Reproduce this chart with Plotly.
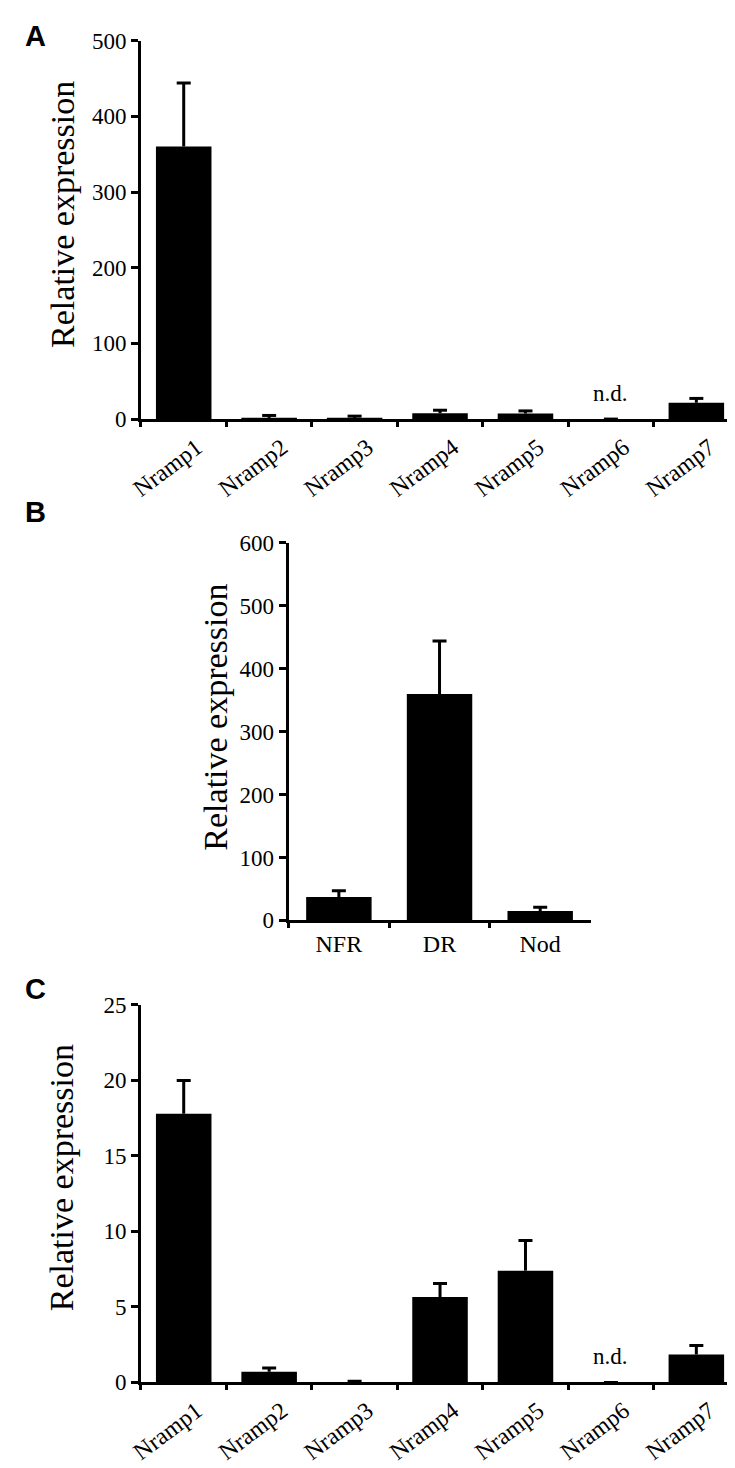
import plotly.graph_objects as go

# ---------------- data ----------------
genes = ["Nramp1", "Nramp2", "Nramp3", "Nramp4", "Nramp5", "Nramp6", "Nramp7"]
a_vals = [360, 1.5, 1.0, 7.8, 7.4, 0, 21.6]
a_err = [84, 3.3, 2.9, 3.9, 3.4, 0, 5.7]

tissues = ["NFR", "DR", "Nod"]
b_vals = [37, 360, 15]
b_err = [10, 84, 6]

c_vals = [17.8, 0.7, 0.03, 5.65, 7.4, 0, 1.85]
c_err = [2.2, 0.25, 0.04, 0.9, 2.0, 0, 0.6]

nd_gene = "Nramp6"
a_yticks = [0, 100, 200, 300, 400, 500]
b_yticks = [0, 100, 200, 300, 400, 500, 600]
c_yticks = [0, 5, 10, 15, 20, 25]

# ---------------- layout helpers ----------------
W, H = 735, 1468
SERIF = "Liberation Serif"


def px_x(p):
    return p / W


def px_y(p):
    return 1 - p / H


def add_panel(fig, x, y, err, xa, ya):
    fig.add_trace(go.Bar(
        x=x, y=y, xaxis=xa, yaxis=ya, width=0.65,
        marker=dict(color="black", line=dict(width=0)),
        error_y=dict(type="data", symmetric=False, array=err,
                     arrayminus=[0] * len(err), color="black",
                     thickness=3, width=0),
        hoverinfo="x+y",
    ))
    # caps of the error bars (top end only)
    fig.add_trace(go.Scatter(
        x=x, y=[v + e for v, e in zip(y, err)], xaxis=xa, yaxis=ya,
        mode="markers", hoverinfo="skip",
        marker=dict(symbol="line-ew", size=10, color="black",
                    line=dict(width=3, color="black")),
    ))


fig = go.Figure()
add_panel(fig, genes, a_vals, a_err, "x", "y")
add_panel(fig, tissues, b_vals, b_err, "x2", "y2")
add_panel(fig, genes, c_vals, c_err, "x3", "y3")

common_x = dict(showline=True, linecolor="black", linewidth=3, ticks="outside",
                ticklen=5, tickwidth=3, tickcolor="black", showgrid=False,
                zeroline=False, tickfont=dict(family=SERIF, size=24, color="black"))
common_y = dict(showline=True, linecolor="black", linewidth=3, ticks="outside",
                ticklen=7, tickwidth=3, tickcolor="black", showgrid=False,
                zeroline=False, tickfont=dict(family=SERIF, size=23, color="black"))

fig.update_layout(
    width=W, height=H, margin=dict(l=0, r=0, t=0, b=0),
    plot_bgcolor="white", paper_bgcolor="white", showlegend=False,
    font=dict(family=SERIF, color="black"),
    xaxis=dict(domain=[px_x(123), px_x(731)], anchor="y", tickson="boundaries",
               tickangle=-37, ticklabelshift=13, ticklabelstandoff=2,
               range=[-0.5, 6.5], **common_x),
    yaxis=dict(domain=[px_y(406), px_y(21)], anchor="x", range=[0, 500],
               tickvals=a_yticks, **common_y),
    xaxis2=dict(domain=[px_x(273), px_x(580)], anchor="y2", tickson="boundaries",
                range=[-0.5, 2.5], **common_x),
    yaxis2=dict(domain=[px_y(916), px_y(532)], anchor="x2", range=[0, 600],
                tickvals=b_yticks, **common_y),
    xaxis3=dict(domain=[px_x(123), px_x(731)], anchor="y3", tickson="boundaries",
                tickangle=-37, ticklabelshift=13, ticklabelstandoff=2,
                range=[-0.5, 6.5], **common_x),
    yaxis3=dict(domain=[px_y(1386), px_y(1002)], anchor="x3", range=[0, 25],
                tickvals=c_yticks, **common_y),
)

# y-axis titles
for (cx, cy) in [(43, 198), (199, 709), (43, 1178)]:
    fig.add_annotation(text="Relative expression", xref="paper", yref="paper",
                       x=px_x(cx), y=px_y(cy), xanchor="center", yanchor="middle",
                       textangle=-90, showarrow=False,
                       font=dict(family=SERIF, size=34, color="black"))

# panel letters
for (lab, ly) in [("A", 16), ("B", 501), ("C", 986)]:
    fig.add_annotation(text="<b>%s</b>" % lab, xref="paper", yref="paper",
                       x=px_x(3), y=px_y(ly), xanchor="left", yanchor="middle",
                       showarrow=False,
                       font=dict(family="Liberation Sans", size=29, color="black"))

# n.d. labels
for (xa, ya) in [("x", "y"), ("x3", "y3")]:
    fig.add_annotation(text="n.d.", xref=xa, yref=ya, x=nd_gene, y=0,
                       yanchor="middle", xanchor="center", yshift=26,
                       showarrow=False,
                       font=dict(family=SERIF, size=23, color="black"))

fig.write_html("out.html")
